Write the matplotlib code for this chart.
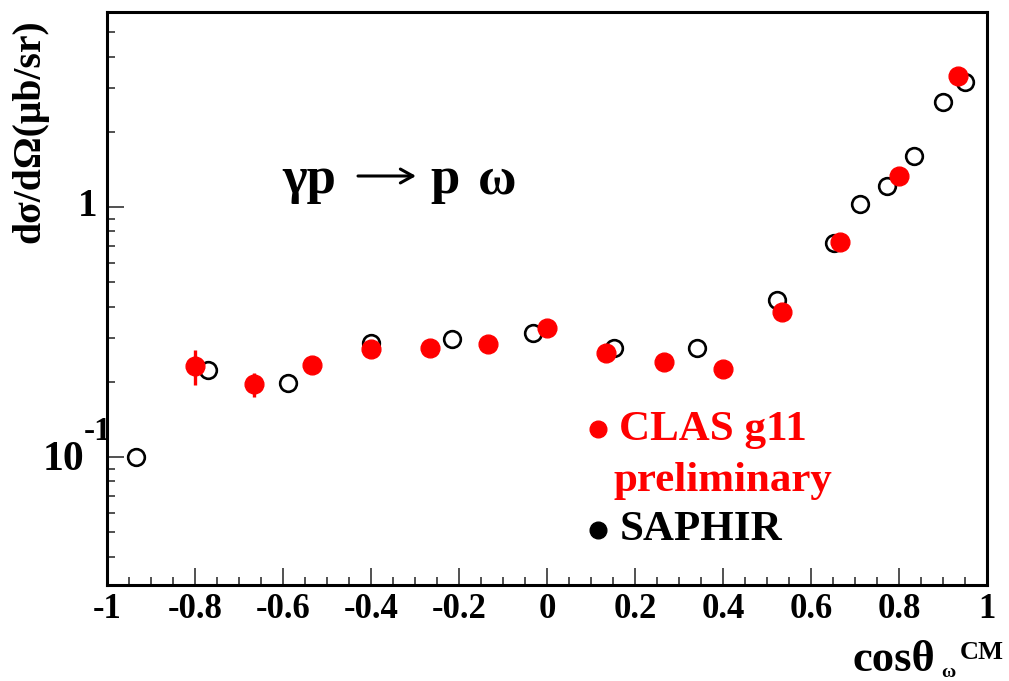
import matplotlib
matplotlib.use("Agg")
import matplotlib.pyplot as plt
from matplotlib.ticker import LogLocator, MultipleLocator, NullFormatter, FixedLocator

# ---- data ----
clas_x = [-0.800, -0.667, -0.533, -0.400, -0.267, -0.133, 0.000, 0.133,
          0.267, 0.400, 0.533, 0.667, 0.800, 0.933]
clas_y = [0.231, 0.196, 0.233, 0.270, 0.272, 0.283, 0.327, 0.260,
          0.241, 0.226, 0.381, 0.727, 1.334, 3.34]
clas_err = [0.037, 0.022, 0.008, 0.008, 0.008, 0.008, 0.009, 0.008,
            0.008, 0.008, 0.012, 0.02, 0.04, 0.12]

saphir_x = [-0.935, -0.770, -0.589, -0.401, -0.215, -0.031, 0.152, 0.342,
            0.522, 0.653, 0.711, 0.772, 0.835, 0.901, 0.950]
saphir_y = [0.0997, 0.223, 0.198, 0.285, 0.298, 0.313, 0.272, 0.272,
            0.425, 0.716, 1.028, 1.213, 1.604, 2.64, 3.17]

xticks = [-1, -0.8, -0.6, -0.4, -0.2, 0, 0.2, 0.4, 0.6, 0.8, 1]
xtick_labels = ["-1", "-0.8", "-0.6", "-0.4", "-0.2", "0", "0.2", "0.4", "0.6", "0.8", "1"]

SERIF = ["Liberation Serif", "DejaVu Serif"]
plt.rcParams['font.family'] = SERIF
plt.rcParams['font.weight'] = 'bold'

W, H = 1009, 681
fig = plt.figure(figsize=(W / 100, H / 100), dpi=100)
ax = fig.add_axes([107 / W, 1 - 585 / H, (987 - 107) / W, (585 - 12) / H])

ax.set_yscale('log')
ax.set_xlim(-1, 1)
ax.set_ylim(0.0308, 6.03)

ax.plot(saphir_x, saphir_y, 'o', ms=12, mfc='none', mec='black', mew=1.9, zorder=3)
ax.errorbar(clas_x, clas_y, yerr=clas_err, fmt='o', ms=13.5, color='red',
            ecolor='red', elinewidth=2.4, capsize=0, zorder=4)

for s in ax.spines.values():
    s.set_linewidth(2.2)

ax.xaxis.set_major_locator(FixedLocator(xticks))
ax.set_xticklabels(xtick_labels)
ax.xaxis.set_minor_locator(MultipleLocator(0.05))
ax.yaxis.set_major_locator(LogLocator(base=10, numticks=10))
ax.yaxis.set_minor_locator(LogLocator(base=10, subs=range(2, 10), numticks=20))
ax.yaxis.set_major_formatter(NullFormatter())
ax.yaxis.set_minor_formatter(NullFormatter())
ax.tick_params(which='both', direction='in', top=False, right=False, color='#333333')
ax.tick_params(which='major', length=12, width=1.2)
ax.tick_params(which='minor', length=6, width=1.2)
ax.tick_params(axis='x', which='major', labelsize=25, pad=6)

def px2fig(px, py):
    return px / W, 1 - py / H

# y tick labels
fig.text(*px2fig(97, 207), "1", ha='right', va='center', fontsize=28, fontweight='bold')
fig.text(*px2fig(84, 470), "10", ha='right', va='baseline', fontsize=30, fontweight='bold')
fig.text(*px2fig(84, 440), "-1", ha='left', va='baseline', fontsize=24, fontweight='bold')

# axis titles
fig.text(*px2fig(30, 131), "dσ/dΩ(μb/sr)", rotation=90, ha='center', va='center',
         fontsize=28.5, fontweight='bold')
fig.text(*px2fig(853, 671), "cosθ", ha='left', va='baseline', fontsize=32, fontweight='bold')
fig.text(*px2fig(941, 677), "ω", ha='left', va='baseline', fontsize=14, fontweight='bold')
fig.text(*px2fig(960, 659), "CM", ha='left', va='baseline', fontsize=19, fontweight='bold')

# reaction  gamma p -> p omega
fig.text(*px2fig(282, 193), "γp", ha='left', va='baseline', fontsize=38, fontweight='bold')
fig.text(*px2fig(430, 193), "p", ha='left', va='baseline', fontsize=38, fontweight='bold')
fig.text(*px2fig(478, 193), "ω", ha='left', va='baseline', fontsize=38, fontweight='bold')
fig.patches.append(matplotlib.patches.FancyArrowPatch(
    px2fig(358, 176), px2fig(416, 176), transform=fig.transFigure,
    arrowstyle='->,head_length=9,head_width=5', lw=2.2, color='black',
    shrinkA=0, shrinkB=0, mutation_scale=1))

# legend
def ax_frac(px, py):
    return ((px - 107) / 880, (585 - py) / 573)

for (px, py), col in [((598, 429), 'red'), ((598, 530), 'black')]:
    fx, fy = ax_frac(px, py)
    ax.plot([fx], [fy], 'o', ms=12, color=col, transform=ax.transAxes, clip_on=False)
for txt, (px, py), col in [("CLAS g11", (619, 430), 'red'),
                           ("preliminary", (614, 481), 'red'),
                           ("SAPHIR", (620, 530), 'black')]:
    fx, fy = ax_frac(px, py)
    ax.text(fx, fy, txt, transform=ax.transAxes, ha='left', va='center',
            fontsize=31, fontweight='bold', color=col)

fig.savefig("out.png", dpi=100)
